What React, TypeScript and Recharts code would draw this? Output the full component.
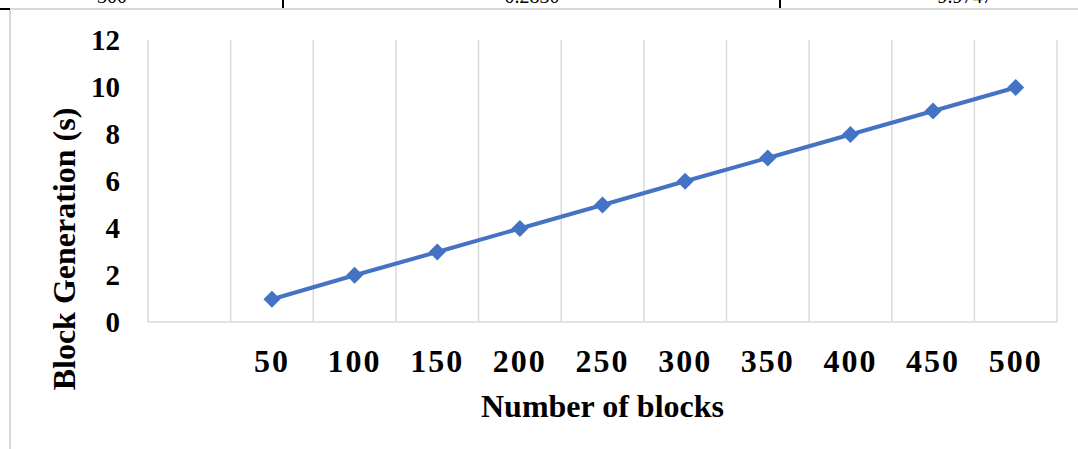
import { LineChart, Line, XAxis, YAxis, CartesianGrid, Label } from "recharts";

// x categories: the first slot is left blank, as in the source sheet
const blockCounts = ["", "50", "100", "150", "200", "250", "300", "350", "400", "450", "500"];
const generationTimes = [null, 0.97, 1.99, 2.98, 3.98, 4.98, 5.99, 6.98, 7.98, 8.98, 9.98];
const yTicks = [0, 2, 4, 6, 8, 10, 12];

// bottom edge of the table row sitting just above the chart
const tableRow = ["300", "0.2830", "9.9747"];
const tableCellCenters = [112, 532, 965];
const tableDividers = [283, 780];

const data = blockCounts.map((blocks, i) => ({ blocks, time: generationTimes[i] }));

const FONT = '"Liberation Serif", "Times New Roman", serif';
const BLUE = "#4472C4";
const GRID = "#d9d9d9";

const Diamond = (props: any) => {
  const { cx, cy, value, index } = props;
  if (cx == null || cy == null || value == null) return <g key={`d-${index}`} />;
  return (
    <path
      key={`d-${index}`}
      d={`M${cx},${cy - 8.5} L${cx + 8.5},${cy} L${cx},${cy + 8.5} L${cx - 8.5},${cy} Z`}
      fill={BLUE}
    />
  );
};

const YTitle = (props: any) => {
  const { viewBox } = props;
  const x = viewBox.x + 75;
  const y = viewBox.y + viewBox.height / 2 + 68;
  return (
    <text
      x={x}
      y={y}
      transform={`rotate(-90, ${x}, ${y})`}
      textAnchor="middle"
      fontFamily={FONT}
      fontWeight="bold"
      fontSize={32}
      fill="#000"
    >
      Block Generation (s)
    </text>
  );
};

export default function App() {
  return (
    <div style={{ position: "absolute", left: 0, top: 0, width: 1078, height: 449, background: "#fff" }}>
      <svg width={1078} height={449} style={{ position: "absolute", left: 0, top: 0 }}>
        <line x1={10} y1={9} x2={1078} y2={9} stroke={GRID} strokeWidth={2} />
        <line x1={10} y1={9} x2={10} y2={449} stroke={GRID} strokeWidth={2} />
        <line x1={0} y1={9} x2={10} y2={9} stroke="#000" strokeWidth={2} />
        {tableDividers.map((x) => (
          <line key={x} x1={x} y1={0} x2={x} y2={8} stroke="#000" strokeWidth={2} />
        ))}
        {tableRow.map((t, i) => (
          <text key={t} x={tableCellCenters[i]} y={3} textAnchor="middle" fontFamily={FONT} fontSize={20} fill="#000">
            {t}
          </text>
        ))}
      </svg>
      <div style={{ position: "absolute", left: 0, top: 0 }}>
        <LineChart width={1078} height={449} data={data} margin={{ top: 40, right: 21, bottom: 17, left: 0 }}>
          <CartesianGrid
            horizontal={false}
            stroke={GRID}
            strokeWidth={1.5}
            verticalCoordinatesGenerator={({ offset }: any) =>
              Array.from({ length: blockCounts.length + 1 }, (_, i) => offset.left + (i * offset.width) / blockCounts.length)
            }
          />
          <XAxis
            dataKey="blocks"
            scale="band"
            interval={0}
            height={110}
            axisLine={{ stroke: GRID, strokeWidth: 1.5 }}
            tickLine={false}
            tickSize={0}
            tickMargin={27}
            tick={{ fontFamily: FONT, fontWeight: "bold", fontSize: 32, fill: "#000", letterSpacing: 2 }}
          >
            <Label
              value="Number of blocks"
              position="insideBottom"
              offset={15}
              style={{ fontFamily: FONT, fontWeight: "bold", fontSize: 32, fill: "#000" }}
            />
          </XAxis>
          <YAxis
            domain={[0, 12]}
            ticks={yTicks}
            width={148}
            axisLine={false}
            tickLine={false}
            tickSize={0}
            tickMargin={28}
            tick={{ fontFamily: FONT, fontWeight: "bold", fontSize: 29, fill: "#000" }}
          >
            <Label content={<YTitle />} />
          </YAxis>
          <Line
            dataKey="time"
            stroke={BLUE}
            strokeWidth={4}
            dot={<Diamond />}
            activeDot={false}
            isAnimationActive={false}
          />
        </LineChart>
      </div>
    </div>
  );
}
